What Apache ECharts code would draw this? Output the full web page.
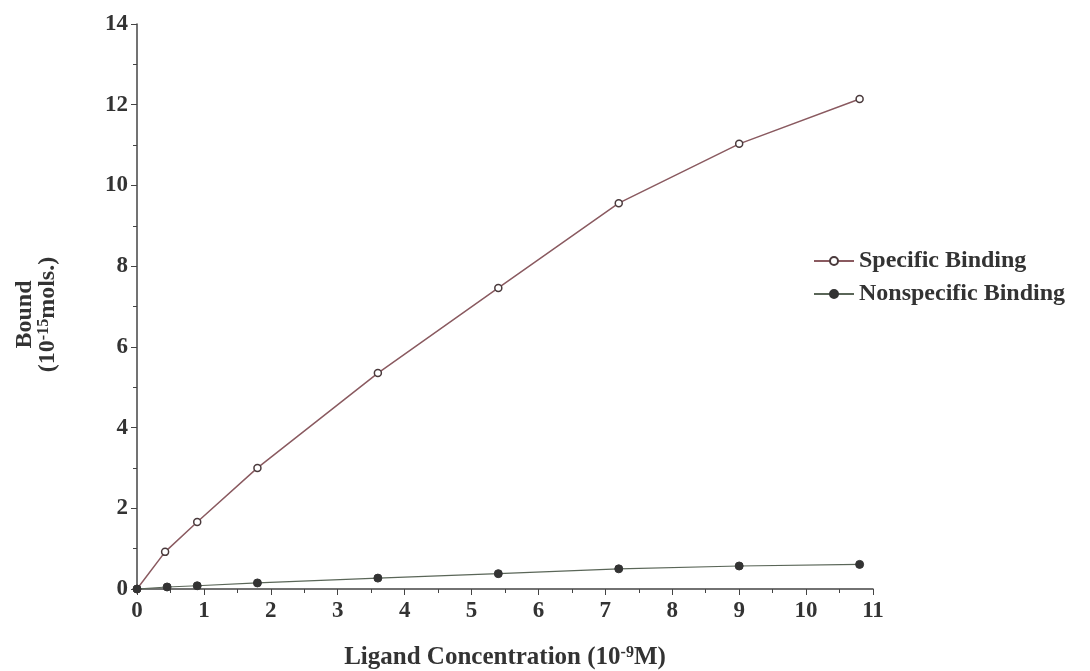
<!DOCTYPE html>
<html><head><meta charset="utf-8">
<script src="https://cdn.jsdelivr.net/npm/echarts@6/dist/echarts.min.js"></script>
<style>html,body{margin:0;padding:0;background:#fff}#c{width:1090px;height:671px}</style>
</head><body><div id="c"></div>
<script>
const concentration = [0, 0.42, 0.9, 1.8, 3.6, 5.4, 7.2, 9.0, 10.8];
const specificBinding = [0, 0.92, 1.66, 3.0, 5.35, 7.46, 9.56, 11.03, 12.14];
const nonspecificConc = [0, 0.45, 0.9, 1.8, 3.6, 5.4, 7.2, 9.0, 10.8];
const nonspecificBinding = [0, 0.05, 0.08, 0.15, 0.27, 0.38, 0.5, 0.57, 0.61];

const font = '"Liberation Serif", "Times New Roman", serif';
const axisColor = '#444';
const textColor = '#333';

const chart = echarts.init(document.getElementById('c'), null, {renderer: 'canvas'});
chart.setOption({
  backgroundColor: '#fff',
  animation: false,
  textStyle: {fontFamily: font},
  grid: {left: 137, right: 217, top: 24, bottom: 82, outerBoundsMode: 'none', containLabel: false},
  legend: {
    orient: 'vertical', left: 808, top: 244, itemGap: 9,
    itemWidth: 40, itemHeight: 10,
    textStyle: {fontFamily: font, fontWeight: 'bold', fontSize: 24, color: textColor},
    data: ['Specific Binding', 'Nonspecific Binding']
  },
  xAxis: {
    type: 'value', min: 0, max: 11, interval: 1,
    axisLine: {onZero: false, lineStyle: {color: axisColor, width: 1.5}},
    axisTick: {length: 6, lineStyle: {color: axisColor}},
    minorTick: {show: true, splitNumber: 2, length: 4, lineStyle: {color: axisColor}},
    splitLine: {show: false},
    axisLabel: {fontFamily: font, fontWeight: 'bold', fontSize: 23, color: textColor, margin: 11},
    name: '{b|Ligand Concentration (10}{s|-9}{b|M)}',
    nameLocation: 'middle', nameGap: 56,
    nameTextStyle: {
      rich: {
        b: {fontFamily: font, fontWeight: 'bold', fontSize: 25, color: textColor},
        s: {fontFamily: font, fontWeight: 'bold', fontSize: 16, color: textColor, verticalAlign: 'top', padding: [0, 0, 8, 0]}
      }
    }
  },
  yAxis: {
    type: 'value', min: 0, max: 14, interval: 2,
    axisLine: {show: true, onZero: false, lineStyle: {color: axisColor, width: 1.5}},
    axisTick: {show: true, length: 6, lineStyle: {color: axisColor}},
    minorTick: {show: true, splitNumber: 2, length: 4, lineStyle: {color: axisColor}},
    splitLine: {show: false},
    axisLabel: {fontFamily: font, fontWeight: 'bold', fontSize: 23, color: textColor, margin: 9},
    name: '{b|Bound}\n{b|(10}{s|-15}{b|mols.)}',
    nameLocation: 'middle', nameGap: 78, nameRotate: 90,
    nameTextStyle: {
      lineHeight: 23,
      padding: [0, 16, 0, 0],
      rich: {
        b: {fontFamily: font, fontWeight: 'bold', fontSize: 24, color: textColor, lineHeight: 23},
        s: {fontFamily: font, fontWeight: 'bold', fontSize: 16, color: textColor, verticalAlign: 'top', lineHeight: 23, padding: [0, 0, 10, 0]}
      }
    }
  },
  series: [
    {
      name: 'Specific Binding', type: 'line',
      data: concentration.map((x, i) => [x, specificBinding[i]]),
      symbol: 'circle', symbolSize: 7,
      lineStyle: {color: '#8a5a60', width: 1.5},
      itemStyle: {color: '#fff', borderColor: '#4a3a3c', borderWidth: 1.5}
    },
    {
      name: 'Nonspecific Binding', type: 'line',
      data: nonspecificConc.map((x, i) => [x, nonspecificBinding[i]]),
      symbol: 'circle', symbolSize: 8,
      lineStyle: {color: '#5a6658', width: 1.2},
      itemStyle: {color: '#333', borderColor: '#333', borderWidth: 1}
    }
  ]
});
</script></body></html>
